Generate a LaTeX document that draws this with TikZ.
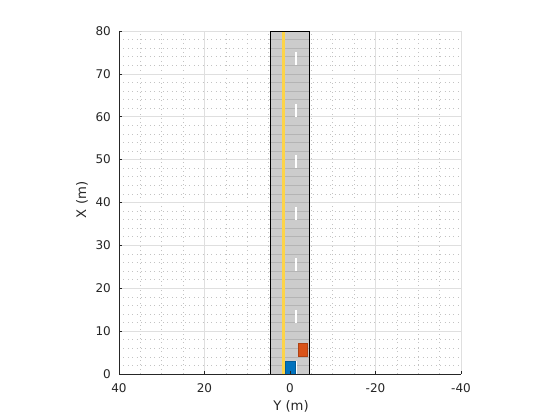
\documentclass[tikz,border=0pt]{standalone}
\usepackage{fontspec}
\setmainfont{DejaVu Sans}
\definecolor{axc}{RGB}{38,38,38}
\definecolor{majg}{RGB}{223,223,223}
\definecolor{ming}{RGB}{195,195,195}
\definecolor{roadc}{RGB}{204,204,204}
\definecolor{roadgrid}{RGB}{180,180,180}
\definecolor{yell}{RGB}{253,212,72}
\definecolor{egoc}{RGB}{0,114,189}
\definecolor{othc}{RGB}{217,83,25}
\begin{document}
\begin{tikzpicture}[x=1pt,y=1pt,
  mingrid/.style={ming, line width=0.6pt, dash pattern=on 0.8pt off 3.6pt},
  majgrid/.style={majg, line width=0.6pt},
  axline/.style={axc, line width=0.6pt},
  ticklab/.style={inner sep=0pt, text=axc, font=\fontsize{12}{14}\selectfont},
  axlab/.style={inner sep=0pt, text=axc, font=\fontsize{13.2}{15}\selectfont},
  car/.style={line width=0.6pt}]
\useasboundingbox (0,0) rectangle (560,420);
\begin{scope}[x={(-4.275pt,0pt)}, y={(0pt,4.2875pt)}, shift={(290pt,46pt)}]
  % minor grid
  \foreach \v in {2,4,...,78} \draw[mingrid] (40,\v) -- (-40,\v);
  \foreach \u in {35,30,25,15,10,5,-5,-10,-15,-25,-30,-35} \draw[mingrid] (\u,0) -- (\u,80);
  % major grid
  \foreach \v in {10,20,...,80} \draw[majgrid] (40,\v) -- (-40,\v);
  \foreach \u in {20,0,-20,-40} \draw[majgrid] (\u,0) -- (\u,80);
  % road
  \fill[roadc] (4.6,0) rectangle (-4.5,80);
  \foreach \v in {2,4,...,78} \draw[roadgrid, line width=0.6pt] (4.6,\v) -- (-4.5,\v);
  \draw[yell, line width=3.3pt] (1.57,0) -- (1.57,80);
  \foreach \s in {0,12,...,72} \draw[white, line width=1.2pt] (-1.4,\s) -- (-1.4,\s+3);
  \draw[black, line width=0.8pt] (4.6,0) rectangle (-4.5,80);
  % vehicles
  \filldraw[car, fill=egoc, draw=egoc!80!black] (1.1,0) rectangle (-1.17,2.97);
  \filldraw[car, fill=othc, draw=othc!80!black] (-1.87,4.05) rectangle (-4.14,7.25);
  % axes
  \coordinate (o) at (40,0);
  \coordinate (xt) at (40,80);
  \coordinate (yr) at (-40,0);
  \draw[axline] (xt) -- (o) -- (yr);
  \foreach \v in {0,10,...,80} {
    \draw[axline] (40,\v) -- ++(3.4pt,0);
    \node[ticklab, anchor=east] (xl\v) at ([xshift=-8pt]40,\v) {\v};
  }
  \foreach \u/\n in {40/a,20/b,0/c,-20/d,-40/e} {
    \draw[axline] (\u,0) -- ++(0,3.4pt);
    \node[ticklab, anchor=north] (yl\n) at ([yshift=-9pt]\u,0) {\u};
  }
\end{scope}
\node[axlab] (ylab) at (291,14) {Y (m)};
\node[axlab, rotate=90] (xlab) at (82,220) {X (m)};
\end{tikzpicture}
\end{document}
